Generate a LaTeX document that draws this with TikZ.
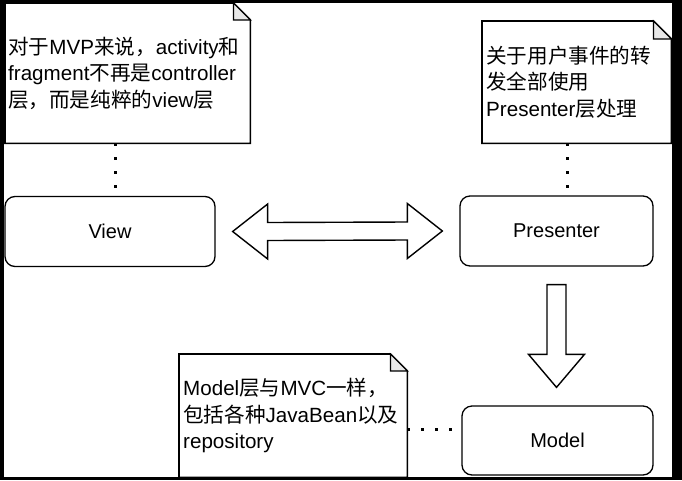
\documentclass[tikz,border=0pt]{standalone}
\usepackage{fontspec}
\setmainfont{Liberation Sans}
\newfontfamily\cjk{Noto Sans CJK SC}
\newcommand\zh[1]{{\cjk #1}}
\usetikzlibrary{calc}
\tikzset{
  box/.style={draw, fill=white, rounded corners=10pt, line width=1.3pt, inner sep=0pt},
  notebox/.style={inner xsep=3pt, inner ysep=0pt, align=left, anchor=north west,
    font=\fontsize{20.6}{26.3}\selectfont},
  noteline/.style={line width=1.6pt, line join=miter},
  foldfill/.style={fill=black!9, line width=1.2pt},
  dotline/.style={line width=3pt, dash pattern=on 3pt off 11pt},
  fatarrow/.style={draw, fill=white, line width=1.4pt, line join=miter},
  txt/.style={font=\fontsize{20}{26}\selectfont}
}
\begin{document}
\begin{tikzpicture}[x=1pt, y=-1pt, every node/.style={txt}]
\useasboundingbox (0,0) rectangle (682,480);
\fill[black] (0,0) rectangle (682,480);
\fill[white] (4,3) rectangle (672,477);

% notes
\node[notebox, text width=239pt, minimum height=140pt] (n1) at (5,3)
  {\zh{对于}MVP\zh{来说，}activity\zh{和}\\fragment\zh{不再是}controller\\\zh{层，而是纯粹的}view\zh{层}};
\node[notebox, inner xsep=4pt, text width=181pt, minimum height=122pt] (n2) at (482,21)
  {\zh{关于用户事件的转}\\\zh{发全部使用}\\Presenter\zh{层处理}};
\node[notebox, inner xsep=4pt, text width=220pt, minimum height=123pt] (n3) at (179,354)
  {Model\zh{层与}MVC\zh{一样，}\\\zh{包括各种}JavaBean\zh{以及}\\repository};

\foreach \n/\f in {n1/17pt, n2/18pt, n3/17pt}{
  \draw[noteline] (\n.north west) -- ([xshift=-\f]\n.north east) -- ([yshift=-\f]\n.north east)
     -- (\n.south east) -- (\n.south west) -- cycle;
  \draw[foldfill] ([xshift=-\f]\n.north east) -- ([xshift=-\f,yshift=-\f]\n.north east)
     -- ([yshift=-\f]\n.north east) -- cycle;
}

% boxes
\node[box, minimum width=210pt, minimum height=70pt] (view) at (110,231.5) {View};
\node[box, minimum width=193pt, minimum height=70pt] (pres) at (556.5,231) {Presenter};
\node[box, minimum width=191pt, minimum height=69pt] (model) at (557.5,440.5) {Model};

% dotted connectors
\coordinate (c1) at (115,0);
\coordinate (c2) at (567,0);
\coordinate (c3) at (0,429);
\draw[dotline] (n1.south -| c1) -- (view.north -| c1);
\draw[dotline] (n2.south -| c2) -- (pres.north -| c2);
\draw[dotline] (n3.east |- c3) -- (model.west |- c3);

% double arrow View <-> Presenter
\coordinate (L) at ($(view.east)+(17,0)$);
\coordinate (R) at ($(pres.west)+(-17,0)$);
\draw[fatarrow] (L) -- ($(L)+(35,-27.5)$) -- ($(L)+(35,-9)$) -- ($(R)+(-35,-9)$)
  -- ($(R)+(-35,-27.5)$) -- (R) -- ($(R)+(-35,27.5)$) -- ($(R)+(-35,9)$)
  -- ($(L)+(35,9)$) -- ($(L)+(35,27.5)$) -- cycle;

% down arrow Presenter -> Model
\coordinate (T) at ($(pres.south)+(0,18)$);
\coordinate (B) at ($(model.north)+(-1,-18)$);
\draw[fatarrow] ($(T)+(-9.5,0)$) -- ($(T)+(9.5,0)$) -- ($(B)+(9.5,-33)$) -- ($(B)+(28,-33)$)
  -- (B) -- ($(B)+(-28,-33)$) -- ($(B)+(-9.5,-33)$) -- cycle;
\end{tikzpicture}
\end{document}
